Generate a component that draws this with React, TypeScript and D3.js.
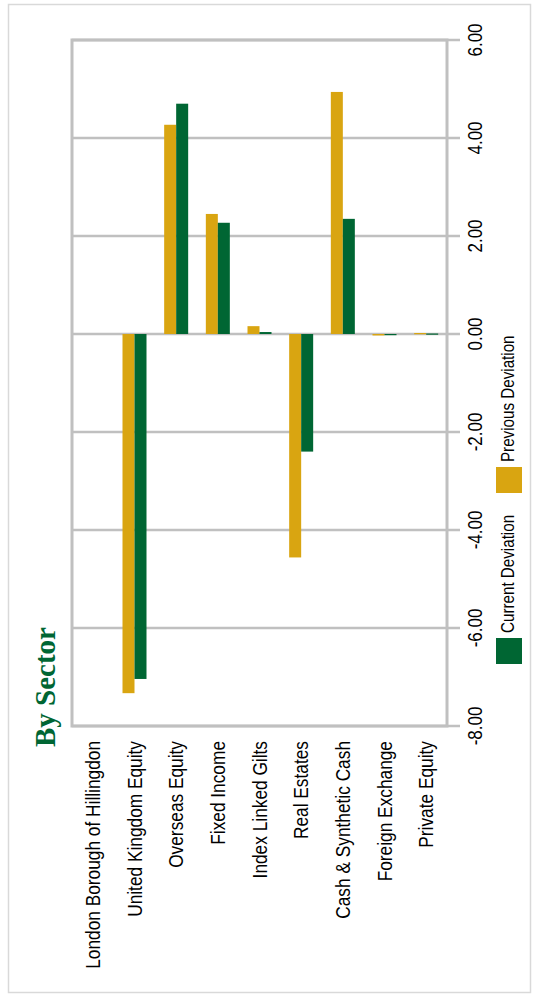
import React from "react";
import * as d3 from "d3";

const categories = [
  "London Borough of Hillingdon",
  "United Kingdom Equity",
  "Overseas Equity",
  "Fixed Income",
  "Index Linked Gilts",
  "Real Estates",
  "Cash & Synthetic Cash",
  "Foreign Exchange",
  "Private Equity",
];
const previousDeviation: (number | null)[] = [null, -7.33, 4.27, 2.45, 0.16, -4.56, 4.94, -0.03, 0.02];
const currentDeviation: (number | null)[] = [null, -7.04, 4.7, 2.27, 0.04, -2.4, 2.35, -0.01, 0.01];
const valueTicks = [6, 4, 2, 0, -2, -4, -6, -8];
const seriesNames = ["Previous Deviation", "Current Deviation"];

const W = 534;
const H = 995;
const GOLD = "#D9A511";
const GREEN = "#006633";
const GRID = "#C0C0C0";
const LABEL_FONT = "'Liberation Sans', Arial, sans-serif";
const STRETCH = 1.2;

// Plot frame (page coordinates, chart turned a quarter turn)
const plotLeft = 72;
const plotRight = 447;
const plotTop = 40;
const plotBottom = 726;

const fmt = d3.formatLocale({
  decimal: ".",
  thousands: ",",
  grouping: [3],
  currency: ["", ""],
  minus: "-",
}).format(".2f");

export default function App() {
  const x = d3.scaleBand<string>().domain(categories).range([plotLeft, plotRight]);
  const inner = d3.scaleBand<string>().domain(seriesNames).range([0, 24]);
  const y = d3.scaleLinear().domain([-8, 6]).range([plotBottom, plotTop]);
  const series = [
    { name: seriesNames[0], values: previousDeviation, color: GOLD },
    { name: seriesNames[1], values: currentDeviation, color: GREEN },
  ];

  const rotText = (tx: number, ty: number, s = STRETCH) =>
    `translate(${tx},${ty}) rotate(-90) scale(1,${s})`;

  return (
    <svg
      width={W}
      height={H}
      style={{ position: "absolute", left: 0, top: 0, background: "#fff" }}
    >
      <rect x={8.5} y={4.5} width={522} height={988} fill="#fff" stroke="#D9D9D9" strokeWidth={1.5} />

      {/* grid lines with tick stubs past the value axis */}
      {valueTicks.map((t) => (
        <line
          key={"g" + t}
          x1={plotLeft}
          x2={460}
          y1={y(t)}
          y2={y(t)}
          stroke={GRID}
          strokeWidth={2.5}
        />
      ))}

      {/* bars */}
      {series.map((s) =>
        s.values.map((v, i) =>
          v === null ? null : (
            <rect
              key={s.name + i}
              x={(x(categories[i]) as number) + x.bandwidth() / 2 - 12 + (inner(s.name) as number)}
              width={inner.bandwidth()}
              y={Math.min(y(v), y(0))}
              height={Math.max(Math.abs(y(v) - y(0)), 1.2)}
              fill={s.color}
            />
          )
        )
      )}

      {/* frame */}
      <rect
        x={plotLeft}
        y={plotTop}
        width={plotRight - plotLeft}
        height={plotBottom - plotTop}
        fill="none"
        stroke={GRID}
        strokeWidth={3}
      />

      {/* value tick labels */}
      {valueTicks.map((t) => (
        <text
          key={"t" + t}
          transform={rotText(475, y(t))}
          textAnchor="middle"
          dominantBaseline="central"
          fontFamily={LABEL_FONT}
          fontSize={17}
          fill="#000"
        >
          {fmt(t)}
        </text>
      ))}

      {/* category labels */}
      {categories.map((c) => (
        <text
          key={c}
          transform={rotText((x(c) as number) + x.bandwidth() / 2, 741)}
          textAnchor="end"
          dominantBaseline="central"
          fontFamily={LABEL_FONT}
          fontSize={17.3}
          fill="#000"
        >
          {c}
        </text>
      ))}

      {/* legend */}
      <rect x={496} y={638} width={26} height={26} fill={GREEN} />
      <text
        transform={rotText(508, 633)}
        textAnchor="start"
        dominantBaseline="central"
        fontFamily={LABEL_FONT}
        fontSize={15.2}
        fill="#000"
      >
        {seriesNames[1]}
      </text>
      <rect x={496} y={467} width={26} height={26} fill={GOLD} />
      <text
        transform={rotText(508, 462)}
        textAnchor="start"
        dominantBaseline="central"
        fontFamily={LABEL_FONT}
        fontSize={15.2}
        fill="#000"
      >
        {seriesNames[0]}
      </text>

      {/* title */}
      <text
        transform={rotText(55, 747, 1)}
        textAnchor="start"
        fontFamily="'Liberation Serif', 'Times New Roman', serif"
        fontWeight="bold"
        fontSize={29}
        fill={GREEN}
      >
        By Sector
      </text>
    </svg>
  );
}
